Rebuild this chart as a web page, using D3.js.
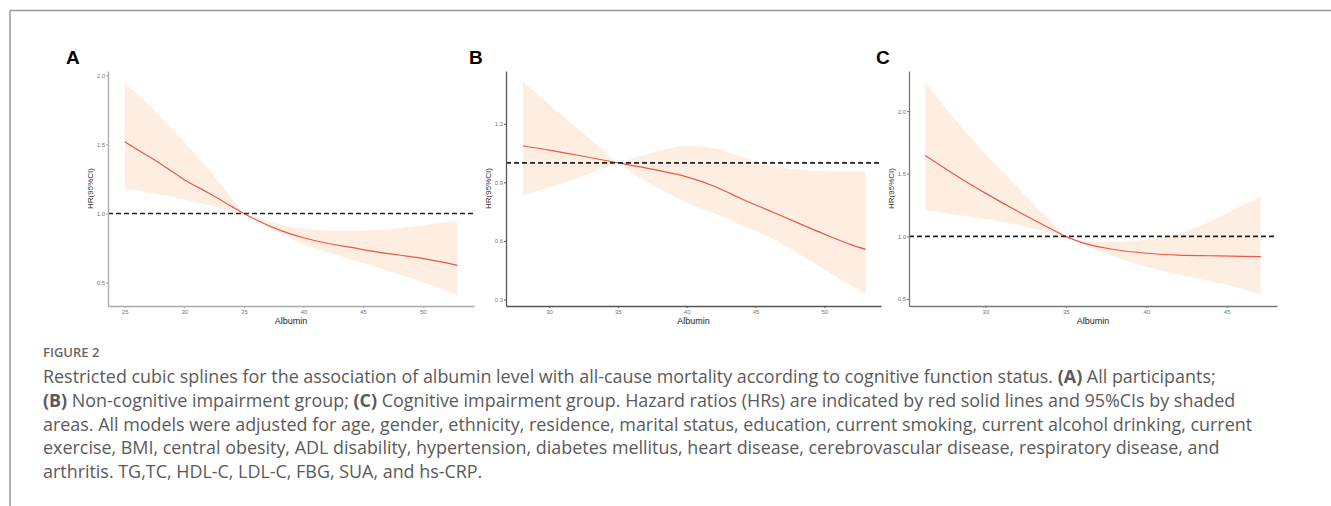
<!DOCTYPE html>
<html>
<head>
<meta charset="utf-8">
<script src="https://cdn.jsdelivr.net/npm/d3@7"></script>
<style>
  body { margin: 0; background: #fff; }
  svg { display: block; }
</style>
</head>
<body>
<svg id="fig" width="1331" height="506"></svg>
<script>
// ---- data ----
// panel A: all participants
var albuminA = [25, 26.5, 28, 30, 32, 34, 35, 36, 38, 40, 42, 44, 46, 48, 50, 52.9];
var hrA      = [1.52, 1.44, 1.36, 1.245, 1.15, 1.05, 1.0, 0.955, 0.88, 0.825, 0.785, 0.755, 0.725, 0.70, 0.675, 0.625];
var upperA   = [1.95, 1.83, 1.70, 1.52, 1.32, 1.11, 1.0, 0.97, 0.92, 0.89, 0.877, 0.875, 0.88, 0.895, 0.915, 0.95];
var lowerA   = [1.18, 1.16, 1.135, 1.10, 1.06, 1.02, 1.0, 0.95, 0.86, 0.775, 0.72, 0.67, 0.615, 0.56, 0.505, 0.41];

// panel B: non-cognitive impairment group
var albuminB = [28.1, 30, 32, 34, 35, 36, 38, 40, 42, 44, 46, 48, 50, 52, 53];
var hrB      = [1.086, 1.065, 1.04, 1.013, 1.0, 0.987, 0.96, 0.928, 0.88, 0.815, 0.755, 0.695, 0.635, 0.58, 0.557];
var upperB   = [1.415, 1.30, 1.18, 1.06, 1.0, 1.02, 1.06, 1.087, 1.075, 1.03, 0.985, 0.966, 0.958, 0.955, 0.955];
var lowerB   = [0.835, 0.875, 0.92, 0.975, 1.0, 0.95, 0.87, 0.795, 0.74, 0.68, 0.62, 0.54, 0.455, 0.37, 0.33];

// panel C: cognitive impairment group
var albuminC = [26.26, 28, 30, 32, 34, 35, 36, 38, 40, 42, 44, 46, 47.12];
var hrC      = [1.645, 1.50, 1.345, 1.20, 1.065, 1.0, 0.95, 0.895, 0.865, 0.85, 0.845, 0.84, 0.838];
var upperC   = [2.235, 1.95, 1.66, 1.39, 1.13, 1.0, 0.965, 0.955, 0.975, 1.02, 1.12, 1.25, 1.317];
var lowerC   = [1.21, 1.175, 1.14, 1.09, 1.03, 1.0, 0.94, 0.84, 0.757, 0.695, 0.64, 0.58, 0.535];

var xTicksA = [25, 30, 35, 40, 45, 50];
var yTicksA = [0.5, 1.0, 1.5, 2.0];
var xTicksB = [30, 35, 40, 45, 50];
var yTicksB = [0.3, 0.6, 0.9, 1.2];
var xTicksC = [30, 35, 40, 45];
var yTicksC = [0.5, 1.0, 1.5, 2.0];

var refHR = 1.0;

var captionTitle = "FIGURE 2";
var captionLines = [
  [["Restricted cubic splines for the association of albumin level with all-cause mortality according to cognitive function status. ", 0], ["(A)", 1], [" All participants;", 0]],
  [["(B)", 1], [" Non-cognitive impairment group; ", 0], ["(C)", 1], [" Cognitive impairment group. Hazard ratios (HRs) are indicated by red solid lines and 95%CIs by shaded", 0]],
  [["areas. All models were adjusted for age, gender, ethnicity, residence, marital status, education, current smoking, current alcohol drinking, current", 0]],
  [["exercise, BMI, central obesity, ADL disability, hypertension, diabetes mellitus, heart disease, cerebrovascular disease, respiratory disease, and", 0]],
  [["arthritis. TG,TC, HDL-C, LDL-C, FBG, SUA, and hs-CRP.", 0]]
];

// ---- drawing ----
var svg = d3.select("#fig");

// outer frame (top and left rules)
svg.append("line").attr("x1", 10).attr("x2", 1331).attr("y1", 10.5).attr("y2", 10.5)
  .attr("stroke", "#999").attr("stroke-width", 1.5);
svg.append("line").attr("x1", 10).attr("x2", 10).attr("y1", 10).attr("y2", 506)
  .attr("stroke", "#999").attr("stroke-width", 1.5);

function drawPanel(p) {
  var x = d3.scaleLinear().domain(p.xdom).range([p.left, p.right]);
  var y = d3.scaleLinear().domain(p.ydom).range([p.bottom, p.top]);
  var g = svg.append("g");

  var rows = p.xs.map(function(v, i) { return {x: v, hr: p.hr[i], lo: p.lo[i], hi: p.hi[i]}; });

  var band = d3.area()
    .x(function(d) { return x(d.x); })
    .y0(function(d) { return y(d.lo); })
    .y1(function(d) { return y(d.hi); })
    .curve(d3.curveMonotoneX);
  g.append("path").datum(rows).attr("d", band).attr("fill", "#fdeee1");

  var line = d3.line()
    .x(function(d) { return x(d.x); })
    .y(function(d) { return y(d.hr); })
    .curve(d3.curveMonotoneX);
  g.append("path").datum(rows).attr("d", line)
    .attr("fill", "none").attr("stroke", "#e8594a").attr("stroke-width", 1.2);

  // reference line HR = 1
  g.append("line")
    .attr("x1", p.left).attr("x2", p.right)
    .attr("y1", y(refHR)).attr("y2", y(refHR))
    .attr("stroke", "#222").attr("stroke-width", 1.7).attr("stroke-dasharray", "5,3");

  var xa = g.append("g").attr("transform", "translate(0," + p.bottom + ")")
    .call(d3.axisBottom(x).tickValues(p.xt).tickFormat(d3.format("d")).tickSize(2).tickSizeOuter(0).tickPadding(2));
  var ya = g.append("g").attr("transform", "translate(" + p.left + ",0)")
    .call(d3.axisLeft(y).tickValues(p.yt).tickFormat(d3.format(".1f")).tickSize(2).tickSizeOuter(0).tickPadding(1));
  [xa, ya].forEach(function(a) {
    a.select(".domain").attr("stroke", p.axisColor).attr("stroke-width", 1.3);
    a.selectAll(".tick line").attr("stroke", p.axisColor);
    a.selectAll(".tick text").attr("fill", "#777").style("font-family", "Liberation Sans, Arial, sans-serif").style("font-size", "6px");
  });

  g.append("text")
    .attr("x", (p.left + p.right) / 2).attr("y", p.bottom + 18)
    .attr("text-anchor", "middle")
    .style("font-family", "Liberation Sans, Arial, sans-serif").style("font-size", "9px")
    .attr("fill", "#222").text("Albumin");

  g.append("text")
    .attr("transform", "translate(" + (p.left - 15) + "," + ((p.top + p.bottom) / 2) + ") rotate(-90)")
    .attr("text-anchor", "middle")
    .style("font-family", "Liberation Sans, Arial, sans-serif").style("font-size", "8px")
    .attr("fill", "#333").text("HR(95%CI)");

  svg.append("text")
    .attr("x", p.labelX).attr("y", 64)
    .style("font-family", "Liberation Sans, Arial, sans-serif").style("font-size", "19px").style("font-weight", "bold")
    .attr("fill", "#000").text(p.label);
}

drawPanel({label: "A", labelX: 66, xs: albuminA, hr: hrA, lo: lowerA, hi: upperA,
  xdom: [23.6, 54.3], ydom: [0.331, 2.031], xt: xTicksA, yt: yTicksA,
  left: 108, right: 474, top: 71, bottom: 306, axisColor: "#aaa"});
drawPanel({label: "B", labelX: 469, xs: albuminB, hr: hrB, lo: lowerB, hi: upperB,
  xdom: [26.87, 54.12], ydom: [0.267, 1.47], xt: xTicksB, yt: yTicksB,
  left: 506, right: 881, top: 71, bottom: 306, axisColor: "#555"});
drawPanel({label: "C", labelX: 876, xs: albuminC, hr: hrC, lo: lowerC, hi: upperC,
  xdom: [25.25, 48.13], ydom: [0.444, 2.32], xt: xTicksC, yt: yTicksC,
  left: 909, right: 1277, top: 71, bottom: 306, axisColor: "#777"});

// caption
svg.append("text").attr("x", 43).attr("y", 357)
  .style("font-family", "'Open Sans', sans-serif").style("font-size", "13px").style("font-weight", "600")
  .attr("fill", "#666").text(captionTitle);

var capFont = 16;
var capTexts = captionLines.map(function(parts, i) {
  var t = svg.append("text")
    .attr("x", 43).attr("y", 383 + i * 23.8)
    .style("font-family", "'Open Sans', sans-serif").style("font-size", capFont + "px")
    .attr("fill", "#5a5a5a");
  parts.forEach(function(part) {
    var s = t.append("tspan").text(part[0]);
    if (part[1]) s.style("font-weight", "bold");
  });
  return t;
});
// fit the first line to the width it has in the figure (x 43 to 1217)
var w0 = capTexts[0].node().getComputedTextLength();
var fitted = capFont * 1174 / w0;
capTexts.forEach(function(t) { t.style("font-size", fitted + "px"); });
</script>
</body>
</html>
